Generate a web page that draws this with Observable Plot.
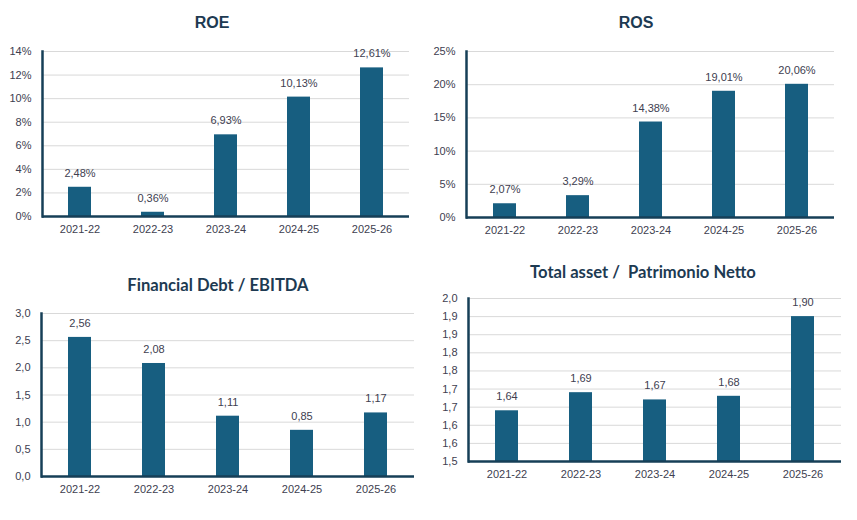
<!DOCTYPE html>
<html>
<head>
<meta charset="utf-8">
<script src="https://cdn.jsdelivr.net/npm/d3@7"></script>
<script src="https://cdn.jsdelivr.net/npm/@observablehq/plot@0.6"></script>
<style>
  html, body { margin: 0; padding: 0; background: #fff; }
  #root { position: relative; width: 857px; height: 520px; overflow: hidden; font-family: "Liberation Sans", Arial, sans-serif; }
  .panel { position: absolute; }
  .panel svg, .panel svg text { font-family: "Liberation Sans", Arial, sans-serif !important; }
  .title { position: absolute; text-align: center; font-weight: bold; color: #1d3a52; white-space: pre; }
  .t1 { font-family: "Liberation Sans", Arial, sans-serif; font-size: 16px; }
  .t2 { font-family: "Lato", "Open Sans", sans-serif; font-size: 16.6px; }
</style>
</head>
<body>
<div id="root"></div>
<script>
// ---- data ----
const years = ["2021-22", "2022-23", "2023-24", "2024-25", "2025-26"];

const roeValues = [2.48, 0.36, 6.93, 10.13, 12.61];          // %
const roeTicks = [0, 2, 4, 6, 8, 10, 12, 14];

const rosValues = [2.07, 3.29, 14.38, 19.01, 20.06];         // %
const rosTicks = [0, 5, 10, 15, 20, 25];

const fdValues = [2.56, 2.08, 1.11, 0.85, 1.17];
const fdTicks = [0, 0.5, 1.0, 1.5, 2.0, 2.5, 3.0];
const fdTickLabels = ["0,0", "0,5", "1,0", "1,5", "2,0", "2,5", "3,0"];

const taValues = [1.64, 1.69, 1.67, 1.68, 1.90];
const taTicks = [1.5, 1.55, 1.6, 1.65, 1.7, 1.75, 1.8, 1.85, 1.9, 1.95];
const taTickLabels = ["1,5", "1,6", "1,6", "1,7", "1,7", "1,8", "1,8", "1,9", "1,9", "2,0"];

// ---- styling ----
const BAR = "#175e80";
const AXIS = "#163f57";
const GRID = "#d9d9d9";
const TEXT = "#404050";

const root = document.getElementById("root");

function panel({left, top, width, height, mL, mR, mT, mB, values, ticks, tickFmt, domain, base, labelFmt}) {
  const data = years.map((y, i) => ({year: y, v: values[i]}));
  const chart = Plot.plot({
    width, height,
    marginLeft: mL, marginRight: mR, marginTop: mT, marginBottom: mB,
    style: {fontSize: "11px", color: TEXT, background: "transparent"},
    x: {domain: years, paddingInner: 0.69, paddingOuter: 0.345, label: null, tickSize: 0, tickPadding: 9},
    y: {domain, ticks, tickFormat: tickFmt, label: null, tickSize: 0, tickPadding: 11},
    marks: [
      Plot.gridY(ticks, {stroke: GRID, strokeOpacity: 1, strokeWidth: 1}),
      Plot.barY(data, {x: "year", y1: () => base, y2: "v", fill: BAR}),
      Plot.text(data, {x: "year", y: "v", text: d => labelFmt(d.v), dy: -14, fill: TEXT, fontSize: 11}),
      Plot.ruleY([base], {stroke: AXIS, strokeWidth: 2.5}),
      Plot.frame({anchor: "left", stroke: AXIS, strokeWidth: 2.5})
    ]
  });
  const div = document.createElement("div");
  div.className = "panel";
  div.style.left = left + "px";
  div.style.top = top + "px";
  div.appendChild(chart);
  root.appendChild(div);
}

function title(text, cx, cy, cls) {
  const d = document.createElement("div");
  d.className = "title " + cls;
  d.textContent = text;
  d.style.left = (cx - 200) + "px";
  d.style.width = "400px";
  d.style.top = (cy - 10) + "px";
  d.style.lineHeight = "20px";
  root.appendChild(d);
}

const pct = v => v.toFixed(2).replace(".", ",") + "%";
const num = v => v.toFixed(2).replace(".", ",");

// ROE
panel({left: 0, top: 40, width: 430, height: 210, mL: 42, mR: 21, mT: 11, mB: 34,
  values: roeValues, ticks: roeTicks, tickFmt: d => d + "%", domain: [0, 14], base: 0, labelFmt: pct});
title("ROE", 212, 23, "t1");

// ROS
panel({left: 430, top: 40, width: 427, height: 210, mL: 36, mR: 23, mT: 11, mB: 33,
  values: rosValues, ticks: rosTicks, tickFmt: d => d + "%", domain: [0, 25], base: 0, labelFmt: pct});
title("ROS", 636, 23, "t1");

// Financial Debt / EBITDA
panel({left: 0, top: 300, width: 430, height: 210, mL: 41, mR: 16, mT: 13, mB: 34,
  values: fdValues, ticks: fdTicks, tickFmt: (d, i) => fdTickLabels[i], domain: [0, 3], base: 0, labelFmt: num});
title("Financial Debt / EBITDA", 218, 285, "t2");

// Total asset / Patrimonio Netto
panel({left: 430, top: 288, width: 427, height: 210, mL: 38, mR: 16, mT: 10, mB: 37,
  values: taValues, ticks: taTicks, tickFmt: (d, i) => taTickLabels[i], domain: [1.5, 1.95], base: 1.5, labelFmt: num});
title("Total asset /  Patrimonio Netto", 643, 272, "t2");
</script>
</body>
</html>
